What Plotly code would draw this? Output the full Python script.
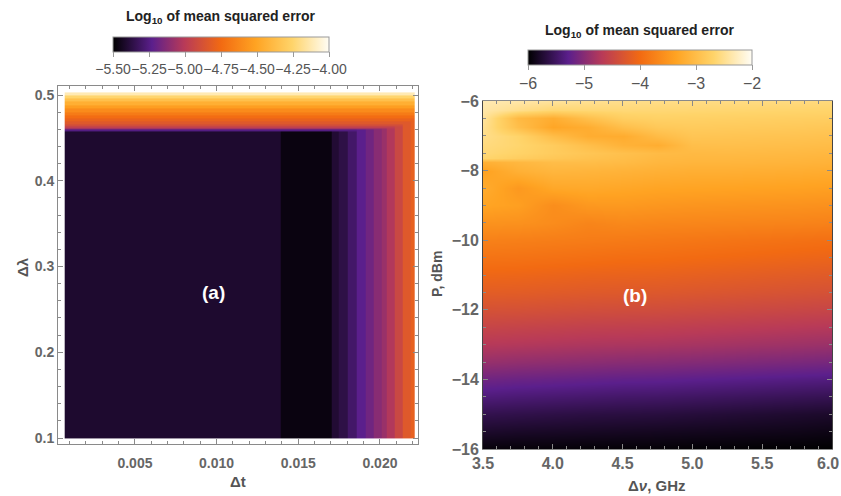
import plotly.graph_objects as go
import numpy as np

W, H = 841, 496

# ---------------- Panel (a) data ----------------
dt_edges = [0.0007, 0.0139, 0.01705, 0.01745, 0.0180, 0.0186, 0.0191, 0.0196,
            0.0201, 0.0204, 0.0209, 0.0214, 0.0219, 0.0221]
col_logmse = [-5.41, -5.47, -5.40, -5.365, -5.30, -5.23, -5.18, -5.12, -5.08,
              -5.02, -4.93, -4.84, -4.80]
dl_edges = [0.1, 0.4575, 0.4595, 0.4615, 0.4635, 0.466, 0.469, 0.4725, 0.476,
            0.480, 0.484, 0.488, 0.492, 0.496, 0.4995, 0.503]
row_logmse = [-6.0, -5.25, -5.10, -4.98, -4.90, -4.84, -4.79, -4.74, -4.68,
              -4.61, -4.53, -4.45, -4.36, -4.25, -4.12]
z_a = np.maximum.outer(row_logmse, col_logmse)

# ---------------- Panel (b) data ----------------
dv = [3.5, 3.75, 4.0, 4.25, 4.5, 4.75, 5.0, 5.25, 5.5, 5.75, 6.0]
P = [-16.0, -15.5, -15.0, -14.5, -14.0, -13.5, -13.0, -12.5, -12.0, -11.5,
     -11.0, -10.5, -10.0, -9.5, -9.0, -8.5, -8.0, -7.75, -7.65, -7.5, -7.25,
     -7.0, -6.75, -6.5, -6.25, -6.0]
z_b = [
    [-5.95, -5.96, -5.96, -5.97, -5.97, -5.97, -5.98, -5.98, -5.99, -5.99, -6.00],
    [-5.78, -5.80, -5.81, -5.82, -5.83, -5.84, -5.85, -5.86, -5.87, -5.88, -5.90],
    [-5.60, -5.62, -5.64, -5.66, -5.67, -5.68, -5.70, -5.72, -5.74, -5.76, -5.78],
    [-5.38, -5.41, -5.43, -5.45, -5.47, -5.48, -5.50, -5.52, -5.54, -5.56, -5.58],
    [-5.15, -5.18, -5.20, -5.22, -5.24, -5.25, -5.27, -5.29, -5.31, -5.33, -5.35],
    [-4.90, -4.93, -4.95, -4.97, -4.99, -5.00, -5.02, -5.04, -5.06, -5.08, -5.10],
    [-4.70, -4.72, -4.74, -4.76, -4.77, -4.78, -4.80, -4.82, -4.84, -4.86, -4.88],
    [-4.52, -4.54, -4.56, -4.58, -4.59, -4.60, -4.62, -4.64, -4.66, -4.68, -4.70],
    [-4.35, -4.36, -4.38, -4.40, -4.41, -4.42, -4.44, -4.46, -4.48, -4.50, -4.52],
    [-4.18, -4.19, -4.21, -4.23, -4.24, -4.25, -4.27, -4.29, -4.31, -4.33, -4.35],
    [-4.05, -4.06, -4.08, -4.10, -4.11, -4.12, -4.14, -4.16, -4.18, -4.20, -4.22],
    [-3.90, -3.91, -3.93, -3.95, -3.97, -3.98, -4.00, -4.02, -4.04, -4.06, -4.08],
    [-3.74, -3.76, -3.78, -3.80, -3.82, -3.84, -3.86, -3.88, -3.90, -3.92, -3.94],
    [-3.55, -3.56, -3.62, -3.70, -3.66, -3.68, -3.69, -3.70, -3.71, -3.72, -3.74],
    [-3.34, -3.40, -3.60, -3.48, -3.47, -3.50, -3.52, -3.53, -3.54, -3.55, -3.57],
    [-3.24, -3.48, -3.30, -3.28, -3.31, -3.34, -3.35, -3.36, -3.37, -3.38, -3.40],
    [-3.38, -3.18, -3.10, -3.12, -3.15, -3.18, -3.20, -3.20, -3.21, -3.22, -3.24],
    [-3.18, -3.08, -3.00, -3.00, -3.03, -3.09, -3.11, -3.11, -3.12, -3.13, -3.15],
    [-2.66, -2.78, -2.86, -2.93, -2.99, -3.06, -3.08, -3.08, -3.09, -3.10, -3.12],
    [-2.62, -2.70, -2.80, -2.88, -2.96, -3.03, -3.05, -3.04, -3.05, -3.06, -3.08],
    [-2.58, -2.66, -2.80, -2.98, -3.15, -3.22, -2.98, -2.97, -2.98, -2.99, -3.01],
    [-2.53, -2.68, -3.00, -3.22, -3.24, -3.02, -2.89, -2.90, -2.91, -2.92, -2.94],
    [-2.48, -2.98, -3.32, -3.22, -2.98, -2.84, -2.81, -2.82, -2.83, -2.84, -2.86],
    [-2.43, -3.05, -3.22, -2.96, -2.76, -2.72, -2.73, -2.74, -2.75, -2.76, -2.77],
    [-2.38, -2.52, -2.64, -2.63, -2.62, -2.63, -2.64, -2.65, -2.66, -2.67, -2.68],
    [-2.33, -2.38, -2.44, -2.49, -2.52, -2.54, -2.55, -2.56, -2.57, -2.58, -2.60],
]

cb_a_ticks = [-5.50, -5.25, -5.00, -4.75, -4.50, -4.25, -4.00]
cb_b_ticks = [-6, -5, -4, -3, -2]
dv_ticks = [3.5, 4.0, 4.5, 5.0, 5.5, 6.0]
dv_ticktext = ['3.5', '4.0', '4.5', '5.0', '5.5', '']

sunset = [[0.0, '#000000'], [0.18, '#5b1f8c'], [0.33, '#b83a58'],
          [0.50, '#f26a12'], [0.66, '#ffa322'], [0.83, '#ffd46a'],
          [1.0, '#fffdf5']]

FONT = 'Liberation Sans, Arial, sans-serif'
TICKC = '#666666'
FRAME = '#8a8a8a'

def fx(px):
    return px / W

def fy(py):
    return 1 - py / H

fig = go.Figure()

fig.add_trace(go.Heatmap(
    x=dt_edges, y=dl_edges, z=z_a, colorscale=sunset, zmin=-5.5, zmax=-4.0,
    xaxis='x', yaxis='y', hoverinfo='skip',
    colorbar=dict(orientation='h', thickness=15, len=216, lenmode='pixels',
                  x=fx(221), xanchor='center', xref='container',
                  y=fy(37), yanchor='top', yref='container', ypad=0, xpad=0,
                  outlinewidth=1, outlinecolor='#999999',
                  tickvals=cb_a_ticks, tickformat='.2f', ticks='outside',
                  ticklen=5, tickcolor='#999999', tickangle=0,
                  tickfont=dict(family=FONT, size=14, color='#555555'))))

fig.add_trace(go.Heatmap(
    x=dv, y=P, z=z_b, colorscale=sunset, zmin=-6, zmax=-2, zsmooth='best',
    xaxis='x2', yaxis='y2', hoverinfo='skip',
    colorbar=dict(orientation='h', thickness=15, len=224, lenmode='pixels',
                  x=fx(640), xanchor='center', xref='container',
                  y=fy(50), yanchor='top', yref='container', ypad=0, xpad=0,
                  outlinewidth=1, outlinecolor='#999999',
                  tickvals=cb_b_ticks, ticks='outside', ticklen=5,
                  tickcolor='#999999', tickangle=0,
                  tickfont=dict(family=FONT, size=16, color='#555555'))))

axis_common = dict(showline=True, linecolor=FRAME, linewidth=1, mirror='ticks',
                   ticks='inside', tickcolor=FRAME, ticklen=5, showgrid=False,
                   zeroline=False,
                   tickfont=dict(family=FONT, size=14, color=TICKC, weight='bold'))
big_tick = dict(family=FONT, size=16, color=TICKC, weight='bold')

fig.update_layout(
    width=W, height=H, margin=dict(l=0, r=0, t=0, b=0, autoexpand=False),
    paper_bgcolor='white', plot_bgcolor='white', showlegend=False,
    xaxis=dict(domain=[fx(58), fx(418)], range=[0.00029, 0.02233],
               tickvals=[0.005, 0.010, 0.015, 0.020], tickformat='.3f',
               ticklabelstandoff=6,
               minor=dict(dtick=0.001, ticks='inside', ticklen=3, tickcolor=FRAME),
               anchor='y', **axis_common),
    yaxis=dict(domain=[fy(444), fy(86)], range=[0.093, 0.5105],
               tickvals=[0.1, 0.2, 0.3, 0.4, 0.5], tickformat='.1f',
               minor=dict(dtick=0.02, ticks='inside', ticklen=3, tickcolor=FRAME),
               anchor='x', **axis_common),
    xaxis2=dict(domain=[fx(483), fx(832)], range=[3.4999, 6.0001],
                tickvals=dv_ticks, ticktext=dv_ticktext,
                minor=dict(dtick=0.1, ticks='inside', ticklen=3, tickcolor=FRAME),
                anchor='y2', **{**axis_common, 'tickfont': big_tick}),
    yaxis2=dict(domain=[fy(449), fy(101)], range=[-16.0001, -5.9999],
                tickvals=[-16, -14, -12, -10, -8, -6],
                minor=dict(dtick=0.5, ticks='inside', ticklen=3, tickcolor=FRAME),
                anchor='x2', **{**axis_common, 'tickfont': big_tick,
                                'linecolor': '#444444'}),
)

# last tick label of the Δν axis, kept inside the page edge
fig.add_annotation(text=f'{dv_ticks[-1]:.1f}', x=dv_ticks[-1], xref='x2',
                   y=fy(463), yref='paper', showarrow=False,
                   xanchor='right', yanchor='middle', xshift=9,
                   font=big_tick)

def ann(text, x, y, size, color='#555555', angle=0, bold=True):
    fig.add_annotation(text=f'<b>{text}</b>' if bold else text,
                       x=fx(x), y=fy(y), xref='paper', yref='paper',
                       showarrow=False, textangle=angle,
                       xanchor='center', yanchor='middle',
                       font=dict(family=FONT, size=size, color=color))

ann('Log<sub>10</sub> of mean squared error', 221, 17, 14, color='#222222')
ann('Log<sub>10</sub> of mean squared error', 640, 31, 14, color='#222222')
ann('Δt', 238, 481, 15)
ann('Δλ', 22, 267, 15, angle=-90)
ann('P, dBm', 437, 274, 14, angle=-90)
ann('Δ<i>ν</i>, GHz', 656, 485, 15)
ann('(a)', 213, 292, 19, color='white')
ann('(b)', 635, 295, 19, color='white')

fig.write_html('out.html')
